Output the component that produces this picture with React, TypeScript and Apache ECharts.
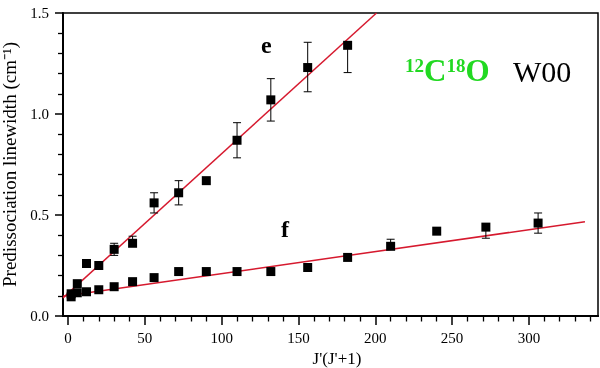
import React, { useEffect, useRef } from "react";
import * as echarts from "echarts";

// J'(J'+1) values
const eX = [2, 6, 12, 20, 30, 42, 56, 72, 90, 110, 132, 156, 182];
const eY = [0.11, 0.16, 0.26, 0.25, 0.33, 0.36, 0.56, 0.61, 0.67, 0.87, 1.07, 1.23, 1.34];
const eErrUp = [0, 0, 0, 0, 0.03, 0.035, 0.05, 0.06, 0, 0.087, 0.105, 0.125, 0];
const eErrDown = [0, 0, 0, 0, 0.03, 0, 0.05, 0.06, 0, 0.087, 0.105, 0.12, 0.135];

const fX = [2, 6, 12, 20, 30, 42, 56, 72, 90, 110, 132, 156, 182, 210, 240, 272, 306];
const fY = [0.095, 0.115, 0.12, 0.13, 0.145, 0.17, 0.19, 0.22, 0.22, 0.22, 0.22, 0.24, 0.29, 0.345, 0.42, 0.44, 0.46];
const fErrUp = [0, 0, 0, 0, 0, 0, 0, 0, 0, 0, 0, 0, 0, 0.035, 0, 0, 0.05];
const fErrDown = [0, 0, 0, 0, 0, 0, 0, 0, 0, 0, 0, 0, 0, 0, 0, 0.055, 0.05];

// linear fit lines (end points)
const eFitX = [-3.3, 200.8];
const eFitY = [0.09, 1.5];
const fFitX = [-3.3, 336.5];
const fFitY = [0.098, 0.467];

const xMajorTicks = [0, 50, 100, 150, 200, 250, 300];
const xMinorTicks = [10, 20, 30, 40, 60, 70, 80, 90, 110, 120, 130, 140, 160, 170, 180, 190, 210, 220, 230, 240, 260, 270, 280, 290, 310, 320, 330, 340];

const SERIF = "serif";

export default function App() {
  const ref = useRef<HTMLDivElement>(null);
  useEffect(() => {
    if (!ref.current) return;
    const chart = echarts.init(ref.current, null, { renderer: "svg" });
    const errData = (xs: number[], ys: number[], up: number[], dn: number[]) =>
      xs
        .map((x, i) => [x, ys[i], up[i], dn[i]])
        .filter((d) => d[2] > 0 || d[3] > 0);
    const renderErr = (params: any, api: any) => {
      const x = api.value(0);
      const y = api.value(1);
      const up = api.value(2);
      const dn = api.value(3);
      const top = api.coord([x, y + up]);
      const bot = api.coord([x, y - dn]);
      const hw = 4;
      const st = { stroke: "#000", lineWidth: 1 };
      const children: any[] = [
        { type: "line", shape: { x1: top[0], y1: top[1], x2: bot[0], y2: bot[1] }, style: st },
      ];
      if (up > 0)
        children.push({ type: "line", shape: { x1: top[0] - hw, y1: top[1], x2: top[0] + hw, y2: top[1] }, style: st });
      if (dn > 0)
        children.push({ type: "line", shape: { x1: bot[0] - hw, y1: bot[1], x2: bot[0] + hw, y2: bot[1] }, style: st });
      return { type: "group", children };
    };
    chart.setOption({
      animation: false,
      grid: {
        left: 63,
        right: 2,
        top: 13,
        bottom: 52,
        containLabel: false,
        outerBoundsMode: "none",
        show: true,
        borderColor: "#000",
        borderWidth: 1.5,
      },
      xAxis: [
        {
          type: "value",
          min: -3.3,
          max: 345,
          splitLine: { show: false },
          position: "bottom",
          name: "J'(J'+1)",
          nameLocation: "middle",
          nameGap: 31,
          nameTextStyle: { fontFamily: SERIF, fontSize: 17, color: "#000", padding: [0, 0, 0, 13] },
          axisLine: { show: true, onZero: false, lineStyle: { color: "#000", width: 2 } },
          axisTick: { show: true, customValues: xMajorTicks, length: 9, lineStyle: { color: "#000", width: 1.5 } },
          axisLabel: { customValues: xMajorTicks, fontFamily: SERIF, fontSize: 15, color: "#000", margin: 14 },
        },
        {
          type: "value",
          min: -3.3,
          max: 345,
          splitLine: { show: false },
          position: "bottom",
          axisLine: { show: true, onZero: false, lineStyle: { color: "#000", width: 2 } },
          axisTick: { show: true, customValues: xMinorTicks, length: 5.5, lineStyle: { color: "#000", width: 1.3 } },
          axisLabel: { show: false },
        },
      ],
      yAxis: [
        {
          type: "value",
          min: 0,
          max: 1.5,
          interval: 0.5,
          position: "left",
          name: "Predissociation linewidth (cm\u207B\u00B9)",
          nameLocation: "middle",
          nameGap: 34,
          nameTextStyle: { fontFamily: SERIF, fontSize: 19, color: "#000" },
          axisLine: { show: true, onZero: false, lineStyle: { color: "#000", width: 2 } },
          axisTick: { show: true, length: 8, lineStyle: { color: "#000", width: 1.5 } },
          minorTick: { show: true, splitNumber: 5, length: 5, lineStyle: { color: "#000", width: 1.3 } },
          splitLine: { show: false },
          axisLabel: {
            fontFamily: SERIF,
            fontSize: 15,
            color: "#000",
            margin: 14,
            formatter: (v: number) => v.toFixed(1),
          },
        },
      ],
      series: [
        {
          type: "line",
          data: eFitX.map((x, i) => [x, eFitY[i]]),
          symbol: "none",
          lineStyle: { color: "#d6192e", width: 1.5 },
          clip: true,
          z: 2,
        },
        {
          type: "line",
          data: fFitX.map((x, i) => [x, fFitY[i]]),
          symbol: "none",
          lineStyle: { color: "#d6192e", width: 1.5 },
          clip: true,
          z: 2,
        },
        {
          type: "custom",
          renderItem: renderErr,
          data: errData(eX, eY, eErrUp, eErrDown),
          z: 3,
        },
        {
          type: "custom",
          renderItem: renderErr,
          data: errData(fX, fY, fErrUp, fErrDown),
          z: 3,
        },
        {
          type: "scatter",
          data: eX.map((x, i) => [x, eY[i]]),
          symbol: "rect",
          symbolSize: 9,
          itemStyle: { color: "#000", opacity: 1 },
          z: 4,
        },
        {
          type: "scatter",
          data: fX.map((x, i) => [x, fY[i]]),
          symbol: "rect",
          symbolSize: 9,
          itemStyle: { color: "#000", opacity: 1 },
          z: 4,
        },
      ],
      graphic: [
        {
          type: "text",
          left: 261,
          top: 33,
          style: { text: "e", fontFamily: SERIF, fontWeight: "bold", fontSize: 24, fill: "#000" },
        },
        {
          type: "text",
          left: 281,
          top: 217,
          style: { text: "f", fontFamily: SERIF, fontWeight: "bold", fontSize: 24, fill: "#000" },
        },
        {
          type: "text",
          left: 405,
          top: 55,
          style: {
            text: "{s|12}{b|C}{s|18}{b|O}",
            fill: "#22d922",
            rich: {
              s: { fontFamily: SERIF, fontWeight: "bold", fontSize: 19, lineHeight: 30, verticalAlign: "top", fill: "#22d922" },
              b: { fontFamily: SERIF, fontWeight: "bold", fontSize: 31, lineHeight: 30, verticalAlign: "bottom", fill: "#22d922" },
            },
          },
        },
        {
          type: "text",
          left: 513,
          top: 56,
          style: { text: "W00", fontFamily: SERIF, fontSize: 30, fill: "#000" },
        },
      ],
    });
    return () => chart.dispose();
  }, []);
  return <div ref={ref} style={{ position: "fixed", left: 0, top: 0, width: 600, height: 368 }} />;
}
